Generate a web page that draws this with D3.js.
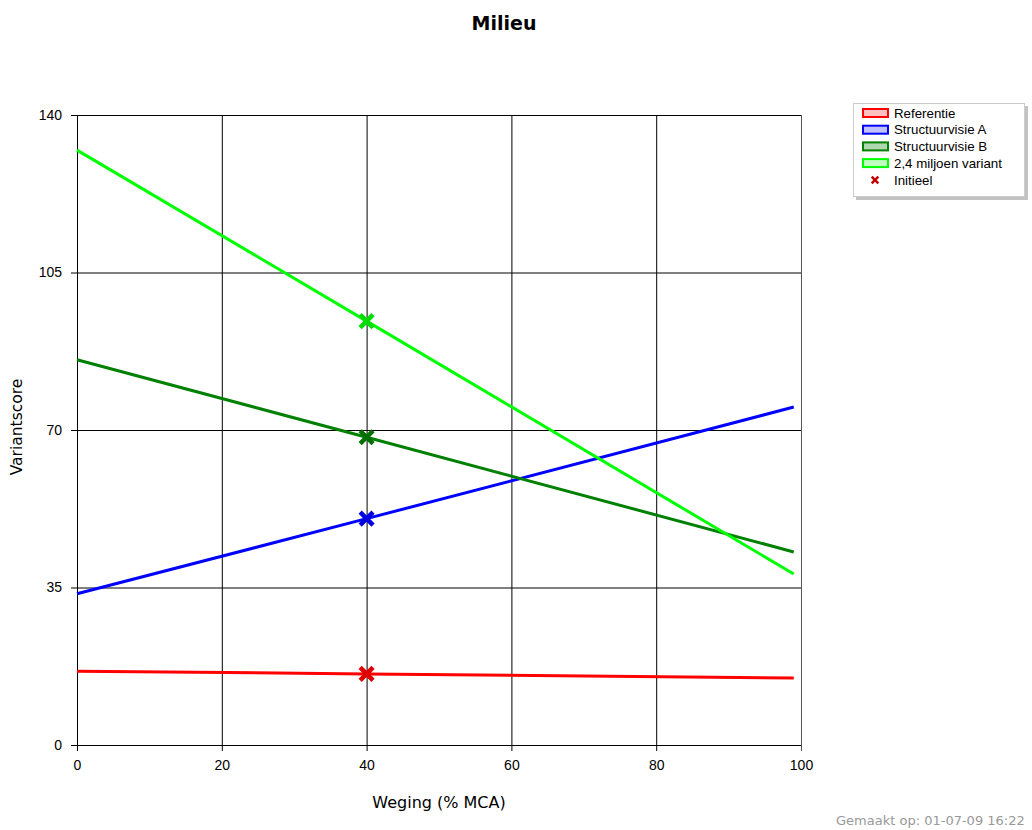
<!DOCTYPE html>
<html><head><meta charset="utf-8">
<script src="https://cdn.jsdelivr.net/npm/d3@7"></script>
<style>body{margin:0;background:#fff;}svg{display:block;}</style>
</head><body>
<script>
const seriesNames = ["Referentie","Structuurvisie A","Structuurvisie B","2,4 miljoen variant"];
const lineColors = ["#ff0000","#0000ff","#008000","#00ff00"];
const swatchFills = ["#ffc0c0","#c0c0ff","#b0d8b0","#c0ffc0"];
const markerColors = ["#e00000","#0000e0","#007000","#00dd00"];
const xValues = [0, 40, 99];
const refValues = [16.4, 15.8, 14.9];
const svaValues = [33.6, 50.3, 75.1];
const svbValues = [85.6, 68.4, 42.9];
const milValues = [132.2, 94.2, 38.0];
const initialX = 40;
const initialValues = [15.8, 50.3, 68.4, 94.2];
const xTicks = [0,20,40,60,80,100];
const yTicks = [0,35,70,105,140];

const W=1032,H=830;
const svg=d3.select("body").append("svg").attr("width",W).attr("height",H);
const x=d3.scaleLinear().domain([0,100]).range([77,801]);
const y=d3.scaleLinear().domain([0,140]).range([745,115]);
const tickFont='"Liberation Sans", Arial, sans-serif';
const verd='"DejaVu Sans", Verdana, sans-serif';

svg.append("text").attr("x",504).attr("y",30).attr("text-anchor","middle")
 .attr("font-family",verd).attr("font-weight","bold").attr("font-size",19).text("Milieu");

// grid
const g=svg.append("g");
g.selectAll(".vg").data(xTicks).enter().append("line")
 .attr("x1",d=>x(d)+0.5).attr("x2",d=>x(d)+0.5).attr("y1",y(140)).attr("y2",y(0)+6)
 .attr("stroke",d=>d===100?"#555":"#000").attr("stroke-width",1);
g.selectAll(".hg").data(yTicks).enter().append("line")
 .attr("y1",d=>y(d)+0.5).attr("y2",d=>y(d)+0.5).attr("x1",x(0)-6).attr("x2",x(100))
 .attr("stroke","#000").attr("stroke-width",1);

// axes labels via axis
const xa=svg.append("g").attr("transform",`translate(0,${y(0)})`)
 .call(d3.axisBottom(x).tickValues(xTicks).tickSize(0).tickPadding(15));
xa.select(".domain").remove();
xa.selectAll("text").attr("font-family",tickFont).attr("font-size",14).attr("fill","#000");
const ya=svg.append("g").attr("transform",`translate(${x(0)},0)`)
 .call(d3.axisLeft(y).tickValues(yTicks).tickSize(0).tickPadding(15));
ya.select(".domain").remove();
ya.selectAll("text").attr("font-family",tickFont).attr("font-size",14).attr("fill","#000");

svg.append("text").attr("x",439).attr("y",808).attr("text-anchor","middle")
 .attr("font-family",verd).attr("font-size",16).text("Weging (% MCA)");
svg.append("text").attr("transform","translate(22,427) rotate(-90)").attr("text-anchor","middle")
 .attr("font-family",verd).attr("font-size",15.5).text("Variantscore");

// lines
const allSeries=[refValues,svaValues,svbValues,milValues];
const line=d3.line().x((d,i)=>x(xValues[i])).y(d=>y(d));
allSeries.forEach((s,i)=>{
  svg.append("path").attr("d",line(s)).attr("fill","none")
   .attr("stroke",lineColors[i]).attr("stroke-width",3);
});
// markers
const cross=d3.symbol().type(d3.symbolX).size(110);
initialValues.forEach((v,i)=>{
  svg.append("path").attr("d",cross()).attr("transform",`translate(${x(initialX)},${y(v)})`)
   .attr("fill","none").attr("stroke",markerColors[i]).attr("stroke-width",4.5);
});

// legend
const lg=svg.append("g");
lg.append("rect").attr("x",856).attr("y",106).attr("width",172).attr("height",94).attr("fill","#999").attr("opacity",0.6);
lg.append("rect").attr("x",853.5).attr("y",103.5).attr("width",171).attr("height",93).attr("fill","#fff").attr("stroke","#ccc");
seriesNames.forEach((n,i)=>{
  const yy=113+i*16.7;
  lg.append("rect").attr("x",863).attr("y",yy-4).attr("width",25).attr("height",8)
   .attr("fill",swatchFills[i]).attr("stroke",lineColors[i]).attr("stroke-width",2);
  lg.append("text").attr("x",894).attr("y",yy+4.5).attr("font-family",tickFont).attr("font-size",13.3).text(n);
});
lg.append("path").attr("d",d3.symbol().type(d3.symbolX).size(30)()).attr("transform","translate(875,180)")
 .attr("stroke","#c00000").attr("stroke-width",2.5).attr("fill","none");
lg.append("text").attr("x",894).attr("y",184.5).attr("font-family",tickFont).attr("font-size",13.3).text("Initieel");

svg.append("text").attr("x",836).attr("y",825).attr("font-family",verd).attr("font-size",13)
 .attr("fill","#999").text("Gemaakt op: 01-07-09 16:22");
</script>
</body></html>
